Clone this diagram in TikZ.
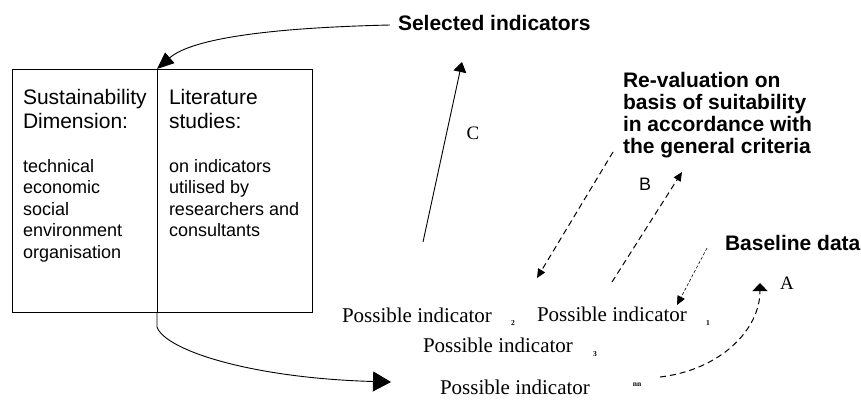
\documentclass[tikz,border=0pt]{standalone}
\usepackage{fontspec}
\setmainfont{Liberation Sans}
\newfontfamily\serifrm{Liberation Serif}
\usetikzlibrary{arrows.meta}
\begin{document}
\begin{tikzpicture}[x=1pt,y=-1pt,
  every node/.style={inner sep=0pt, outer sep=0pt},
  boxpart/.style={draw, line width=1pt, minimum height=243pt, anchor=north west},
  headtxt/.style={anchor=base west, align=left, font=\fontsize{21}{24}\selectfont},
  listtxt/.style={anchor=base west, align=left, font=\fontsize{18}{21.5}\selectfont},
  boldtxt/.style={anchor=base west, align=left, font=\bfseries\fontsize{21}{22}\selectfont},
  indtxt/.style={anchor=base west, font=\serifrm\fontsize{21}{24}\selectfont},
  subtxt/.style={font=\serifrm\bfseries\fontsize{7.5}{8}\selectfont},
  lettxt/.style={font=\serifrm\fontsize{19}{20}\selectfont},
  solidline/.style={line width=0.9pt},
  dashline/.style={line width=1pt, dash pattern=on 6pt off 4pt},
  fineline/.style={line width=0.6pt, dash pattern=on 3pt off 2pt},
  bigtip/.style={-{Triangle[length=17pt,width=14pt]}},
  hugetip/.style={-{Triangle[length=18pt,width=20pt]}},
  midtip/.style={-{Triangle[length=10pt,width=13pt]}},
  smalltip/.style={-{Triangle[length=9pt,width=8pt]}},
  flattip/.style={-{Triangle[length=8pt,width=15pt]}}
]
\useasboundingbox (0,0) rectangle (861,399);

% box
\node[boxpart, minimum width=145pt] (dim) at (12,69) {};
\node[boxpart, minimum width=155pt] (lit) at (157,69) {};

% multi-line nodes: base anchor sits on the last line's baseline
\node[headtxt] (dimhead) at (23,128) {Sustainability\\Dimension:};
\node[listtxt] (dimlist) at (23,258) {technical\\economic\\social\\environment\\organisation};
\node[headtxt] (lithead) at (169,128) {Literature\\studies:};
\node[listtxt] (litlist) at (169,236.5) {on indicators\\utilised by\\researchers and\\consultants};

% bold labels
\node[boldtxt] (sel) at (398,30) {Selected indicators};
\node[boldtxt] (reval) at (623,153) {Re-valuation on\\basis of suitability\\in accordance with\\the general criteria};
\node[boldtxt] (base) at (725,250) {Baseline data};

% letters
\node[lettxt] (labC) at (473,133) {C};
\node[font=\fontsize{18}{20}\selectfont] (labB) at (645,184) {B};
\node[lettxt] (labA) at (787,283) {A};

% possible indicators
\node[indtxt] (p2) at (342,322) {Possible indicator};
\node[subtxt] (s2) at (513,323) {2};
\node[indtxt] (p1) at (537,321) {Possible indicator};
\node[subtxt] (s1) at (708,323) {1};
\node[indtxt] (p3) at (423,352) {Possible indicator};
\node[subtxt] (s3) at (595,354) {3};
\node[indtxt] (pnn) at (440,394) {Possible indicator};
\node[subtxt] (snn) at (637,385) {nn};

% coordinates for free ends
\coordinate (selstart) at (390,25);
\coordinate (nntip) at (391,382);
\coordinate (cstart) at (423,242);
\coordinate (ctip) at (462,62);
\coordinate (bdstart) at (613,152);
\coordinate (bdtip) at (537,278);
\coordinate (bustart) at (612,282);
\coordinate (butip) at (682,172);
\coordinate (blstart) at (707,248);
\coordinate (bltip) at (677,305);
\coordinate (astart) at (660,377);
\coordinate (atip) at (760,283);

% connectors
\draw[solidline, bigtip] (selstart) .. controls (260,28) and (190,40) .. (lit.north west);
\draw[solidline, hugetip] (lit.south west) -- ++(0,15) .. controls (165,350) and (250,378) .. (nntip);
\draw[solidline, midtip] (cstart) -- (ctip);
\draw[dashline, smalltip] (bdstart) -- (bdtip);
\draw[dashline, smalltip] (bustart) -- (butip);
\draw[fineline, smalltip] (blstart) -- (bltip);
\draw[dashline, flattip] (astart) .. controls (720,370) and (760,330) .. (atip);
\end{tikzpicture}
\end{document}
